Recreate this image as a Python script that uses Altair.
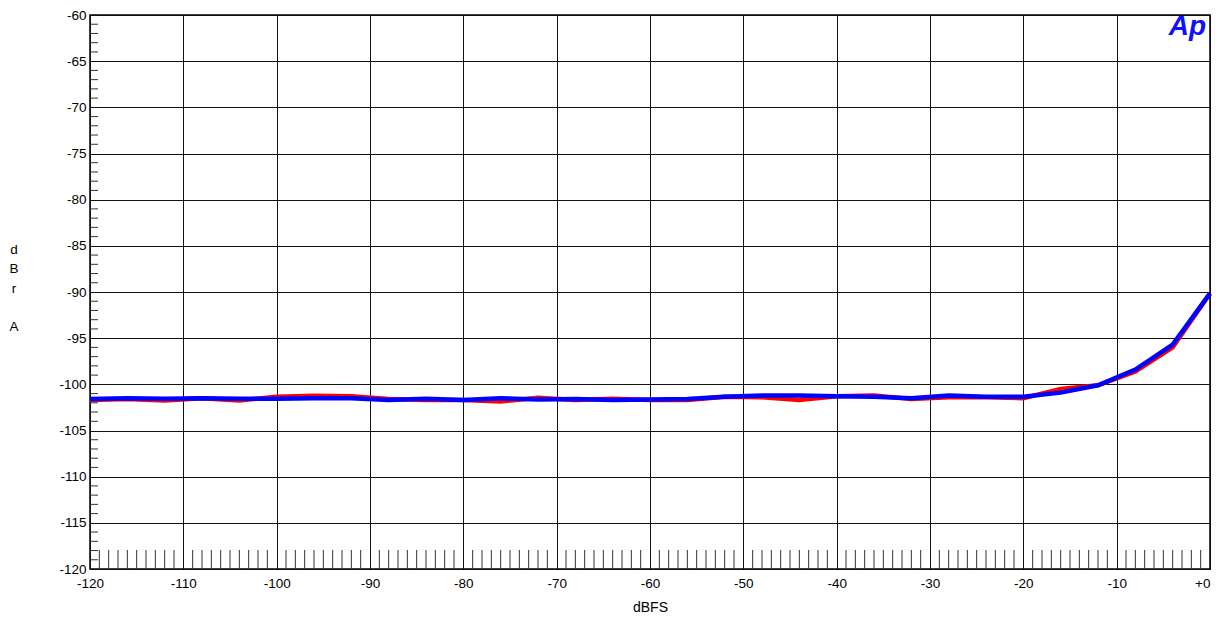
import altair as alt
import pandas as pd

# ---- data ----
dbfs = [-120, -116, -112, -108, -104, -100, -96, -92, -88, -84, -80, -76, -72, -68,
        -64, -60, -56, -52, -48, -44, -40, -36, -32, -28, -24, -20, -16, -12, -8, -4, 0]
red_dbr = [-101.7, -101.6, -101.75, -101.5, -101.75, -101.35, -101.25, -101.3, -101.6,
           -101.7, -101.7, -101.85, -101.45, -101.7, -101.55, -101.7, -101.7, -101.35,
           -101.4, -101.7, -101.3, -101.2, -101.6, -101.4, -101.4, -101.5, -100.5,
           -100.1, -98.6, -96.0, -90.15]
blue_dbr = [-101.6, -101.5, -101.55, -101.5, -101.55, -101.55, -101.5, -101.5, -101.7,
            -101.55, -101.7, -101.5, -101.65, -101.6, -101.7, -101.65, -101.6, -101.35,
            -101.2, -101.2, -101.3, -101.35, -101.5, -101.2, -101.35, -101.35, -100.9,
            -100.1, -98.4, -95.7, -90.15]

x_tick_values = [-120, -110, -100, -90, -80, -70, -60, -50, -40, -30, -20, -10, 0]
y_tick_values = [-120, -115, -110, -105, -100, -95, -90, -85, -80, -75, -70, -65, -60]
x_minor = [v for v in range(-119, 0) if v % 10 != 0]
y_minor = [v for v in range(-119, -60) if v % 5 != 0]
y_title_upper = ["d\nB\nr"]
y_title_lower = ["A"]
x_title = "dBFS"
logo = ["Ap"]

W, H = 1120, 554
FONT = "Liberation Sans"
LH = 19.3
TITLE_TOP = 228

xscale = alt.Scale(domain=[-120, 0], nice=False, zero=False)
yscale = alt.Scale(domain=[-120, -60], nice=False, zero=False)

red_df = pd.DataFrame({"dbfs": dbfs, "dbr": red_dbr})
blue_df = pd.DataFrame({"dbfs": dbfs, "dbr": blue_dbr})

x_axis = alt.Axis(
    values=x_tick_values, grid=True, gridColor="#111111", gridWidth=1, gridOpacity=1,
    tickSize=0, domain=False, labelFlush=False, labelOverlap=False,
    labelExpr="datum.value == 0 ? '+0' : '' + datum.value",
    labelAlign={"condition": {"test": "datum.value == 0", "value": "right"}, "value": "center"},
    labelFont=FONT, labelFontSize=13.5, labelColor="#000000", labelPadding=7,
    title=x_title, titleFont=FONT, titleFontSize=14, titleFontWeight="normal",
    titleColor="#000000", titleY=38, titleBaseline="middle",
)
y_axis = alt.Axis(
    values=y_tick_values, grid=True, gridColor="#111111", gridWidth=1, gridOpacity=1,
    tickSize=0, domain=False, labelFlush=False, labelOverlap=False,
    labelExpr="'' + datum.value",
    labelFont=FONT, labelFontSize=13.5, labelColor="#000000", labelPadding=4,
    title=None,
)

red_line = alt.Chart(red_df).mark_line(color="#ff0000", strokeWidth=4.5).encode(
    x=alt.X("dbfs:Q", scale=xscale, axis=x_axis),
    y=alt.Y("dbr:Q", scale=yscale, axis=y_axis),
)
blue_line = alt.Chart(blue_df).mark_line(color="#0000ff", strokeWidth=4.5).encode(
    x=alt.X("dbfs:Q", scale=xscale),
    y=alt.Y("dbr:Q", scale=yscale),
)

x_minor_ticks = alt.Chart(pd.DataFrame({"dbfs": x_minor})).mark_rule(
    color="#333333", strokeWidth=1
).encode(
    x=alt.X("dbfs:Q", scale=xscale),
    y=alt.value(H - 19),
    y2=alt.value(H),
)
y_minor_ticks = alt.Chart(pd.DataFrame({"dbr": y_minor})).mark_rule(
    color="#333333", strokeWidth=1
).encode(
    y=alt.Y("dbr:Q", scale=yscale),
    x=alt.value(0),
    x2=alt.value(8),
)

y_title_top = alt.Chart(pd.DataFrame({"t": y_title_upper})).mark_text(
    font=FONT, fontSize=13.5, color="#000000", align="center", baseline="top",
    lineBreak="\n", lineHeight=LH,
).encode(
    x=alt.value(-76),
    y=alt.value(TITLE_TOP),
    text="t:N",
)
y_title_bottom = alt.Chart(pd.DataFrame({"t": y_title_lower})).mark_text(
    font=FONT, fontSize=13.5, color="#000000", align="center", baseline="top",
).encode(
    x=alt.value(-76),
    y=alt.value(TITLE_TOP + 4 * LH),
    text="t:N",
)

logo_text = alt.Chart(pd.DataFrame({"t": logo})).mark_text(
    font=FONT, fontStyle="italic", fontWeight="bold", fontSize=28,
    color="#1010ff", align="right", baseline="alphabetic", dx=-4, dy=20,
).encode(
    x=alt.datum(0),
    y=alt.datum(-60),
    text="t:N",
)

chart = alt.layer(
    red_line, x_minor_ticks, y_minor_ticks, blue_line, logo_text,
    y_title_top, y_title_bottom
).properties(
    width=W, height=H,
    autosize=alt.AutoSizeParams(type="none"),
    padding={"left": 82, "top": 7, "right": 3, "bottom": 44},
    background="#ffffff",
).configure_view(
    stroke="#000000", strokeWidth=1.5
)

chart.save("out.html", embed_options={"renderer": "svg", "actions": False})
